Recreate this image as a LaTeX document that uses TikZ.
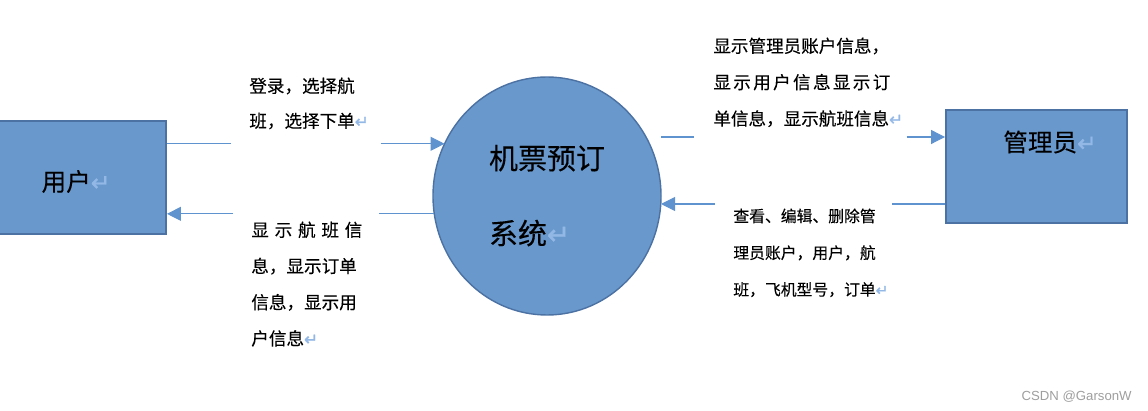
\documentclass[tikz,border=0pt]{standalone}
\usepackage{fontspec}
\setmainfont{Noto Sans CJK SC}[FakeBold=0.2]
\newfontfamily\arrowfont{DejaVu Sans}[FakeBold=1.5]
\newfontfamily\wmfont{Liberation Sans}
\usetikzlibrary{calc,positioning,shapes.geometric,arrows.meta}
\definecolor{boxfill}{HTML}{6898CC}
\definecolor{boxline}{HTML}{4C71A3}
\definecolor{flowline}{HTML}{5F93D0}
\definecolor{retmark}{HTML}{93B8E6}
\newcommand{\ret}{\textcolor{retmark}{\arrowfont\scalebox{0.95}{↵}}}
\tikzset{
    entity/.style={draw=boxline,line width=1.1pt,fill=boxfill,minimum height=2.25cm,inner sep=0pt},
    process/.style={ellipse,draw=boxline,line width=0.8pt,fill=boxfill,minimum width=4.56cm,minimum height=4.76cm,inner sep=0pt,outer sep=0pt},
    plain/.style={draw=flowline,line width=0.6pt},
    flow/.style={plain,-{Triangle[length=2.8mm,width=2.8mm]}},
    note/.style={anchor=base west,align=left,inner ysep=0pt},
    title/.style={inner sep=0pt,font=\fontsize{14}{16}\selectfont},
  }

\begin{document}
\begin{tikzpicture}
				  \useasboundingbox (0,0) rectangle (22.96,8.2);
				  %entities and process
				  \node[entity,minimum width=3.4cm] (user) at (1.62,4.65) {};
				  \node[title] (usertext) at (1.52,4.57) {用户\ret};
				  \node[entity,minimum width=3.62cm] (admin) at (20.73,4.87) {};
				  \node[title,below=0.42cm of admin.north,xshift=0.27cm] (admtext) {管理员\ret};
				  \node[process,align=left,font=\fontsize{16.5}{42.7}\selectfont] (sys) at (10.94,4.28) {\raisebox{0.06cm}{机票预订}\\\raisebox{0.06cm}{系统\ret}};
				  %texts on the flows
				  \node[note,text width=2.26cm,inner xsep=0.36cm,font=\fontsize{10}{19.9}\selectfont] (lin) at (4.62,6.35) {登录，选择航\\班，选择下单\ret};
				  \node[note,text width=2.18cm,inner xsep=0.36cm,font=\fontsize{10}{20.6}\selectfont] (lout) at (4.66,3.47) {\makebox[2.22cm][s]{显\hfill 示\hfill 航\hfill 班\hfill 信}\\息，显示订单\\信息，显示用\\户信息\ret};
				  \node[note,text width=3.48cm,inner xsep=0.38cm,font=\fontsize{10}{20.7}\selectfont] (aout) at (13.88,7.15) {显示管理员账户信息，\\\makebox[3.54cm][s]{显\hfill 示\hfill 用\hfill 户\hfill 信\hfill 息\hfill 显\hfill 示\hfill 订}\\单信息，显示航班信息\ret};
				  \node[note,text width=2.8cm,inner xsep=0.36cm,font=\fontsize{9}{20.9}\selectfont] (ain) at (14.3,3.76) {查看、编辑、删除管\\理员账户，用户，航\\班，飞机型号，订单\ret};
				  %flows
				  \coordinate (a1) at ([yshift=0.59cm]admin.west);
				  \coordinate (a2) at ([yshift=-0.75cm]admin.west);
				  \draw[plain] (user.east |- sys.153) -- (lin.west |- sys.153);
				  \draw[flow] (lin.east |- sys.153) -- (sys.153);
				  \draw[plain] (sys.189) -- (lout.east |- sys.189);
				  \draw[flow] (lout.west |- sys.189) -- (user.east |- sys.189);
				  \draw[plain] (sys.east |- a1) -- (aout.west |- a1);
				  \draw[flow] (aout.east |- a1) -- (a1);
				  \draw[plain] (a2) -- (ain.east |- a2);
				  \draw[flow] (ain.west |- a2) -- (sys.east |- a2);
				  \node[anchor=east,inner sep=0pt,text=black!38,font=\wmfont\fontsize{7.5}{9}\selectfont] (mark) at (22.64,0.26) {CSDN @GarsonW};
				  \end{tikzpicture}
\end{document}
